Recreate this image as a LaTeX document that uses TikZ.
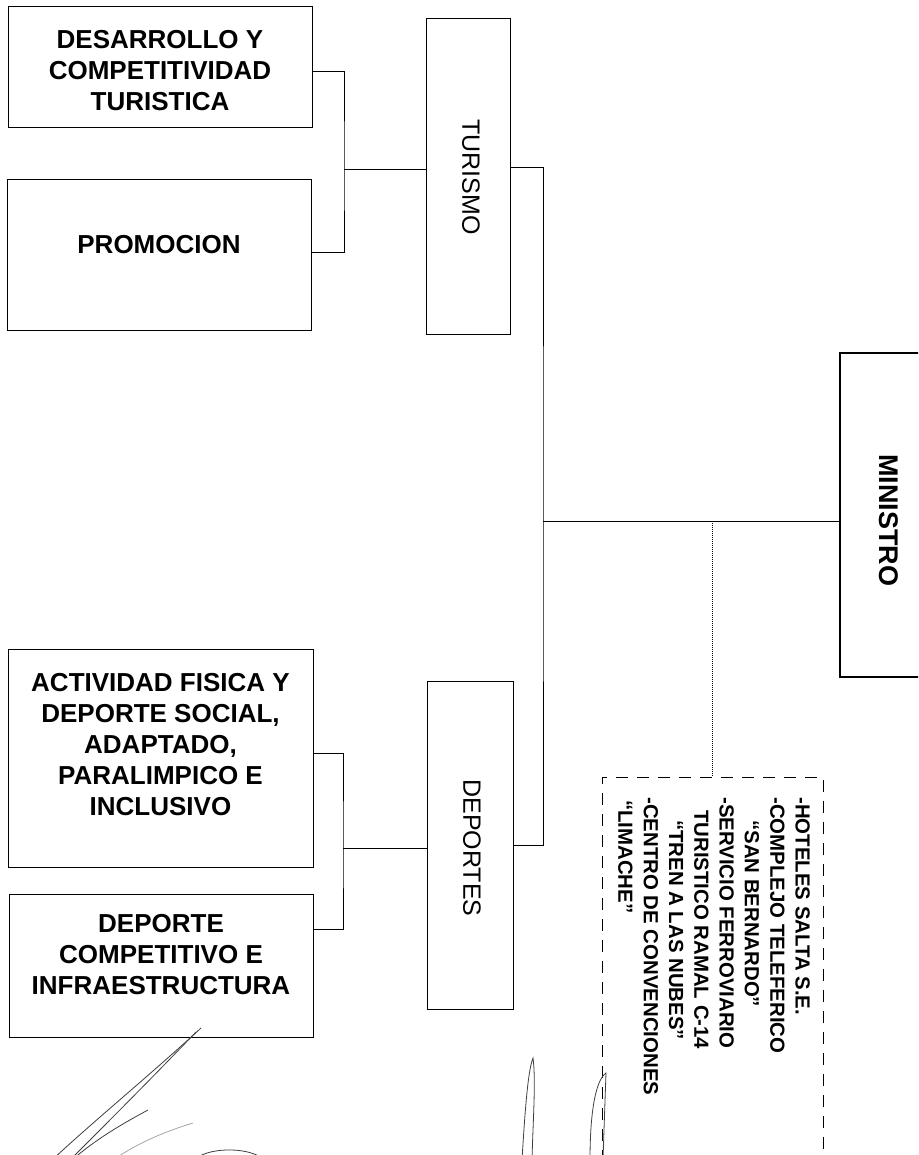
\documentclass[tikz,border=0pt]{standalone}
\usepackage{fontspec}
\setmainfont{Liberation Sans}
\begin{document}
\begin{tikzpicture}[x=1pt,y=-1pt,
  box/.style={draw=black, line width=1pt, rectangle, inner sep=0pt},
  ltext/.style={font=\bfseries\fontsize{26}{31}\selectfont, align=center, inner sep=0pt},
  vtext/.style={font=\fontsize{25}{30}\selectfont, rotate=-90, inner sep=0pt},
  mtext/.style={font=\bfseries\fontsize{27}{32}\selectfont, rotate=-90, inner sep=0pt},
  etext/.style={font=\bfseries\fontsize{20.4}{25.3}\selectfont, rotate=-90, align=left, inner sep=0pt},
  conn/.style={line width=1pt},
  dotline/.style={line width=0.7pt, dash pattern=on 1pt off 1pt},
  dashbox/.style={draw=black, line width=1pt, dash pattern=on 12pt off 9pt, rectangle, inner sep=0pt},
  sig/.style={line width=0.8pt, draw=black!75},
]
\useasboundingbox (0,0) rectangle (918,1155);
\clip (0,0) rectangle (918,1155);
\fill[white] (0,0) rectangle (918,1155);

% left boxes (turismo)
\node[box, minimum width=304pt, minimum height=121pt] (des) at (160,67.5) {};
\node[ltext] (dest) at (160,71) {DESARROLLO Y\\COMPETITIVIDAD\\TURISTICA};
\node[box, minimum width=304pt, minimum height=150pt] (prom) at (159,255) {};
\node[ltext] (promt) at (159,245) {PROMOCION};

% left boxes (deportes)
\node[box, minimum width=305pt, minimum height=218pt] (act) at (160.5,758) {};
\node[ltext] (actt) at (160.5,745) {ACTIVIDAD FISICA Y\\DEPORTE SOCIAL,\\ADAPTADO,\\PARALIMPICO E\\INCLUSIVO};
\node[box, minimum width=304pt, minimum height=143pt] (comp) at (161,965.5) {};
\node[ltext] (compt) at (161,955) {DEPORTE\\COMPETITIVO E\\INFRAESTRUCTURA};

% secretarias
\node[box, minimum width=84pt, minimum height=315pt] (tur) at (468,176.5) {};
\node[vtext] (turt) at (471,177) {TURISMO};
\node[box, minimum width=86pt, minimum height=328pt] (dep) at (470,845) {};
\node[vtext] (dept) at (472,848) {DEPORTES};

% ministro
\node[box, line width=2.5pt, minimum width=100pt, minimum height=324pt] (min) at (890,515) {};
\node[mtext] (mint) at (889,520) {MINISTRO};

% entes
\node[dashbox, minimum width=221pt, minimum height=403pt] (ent) at (712.5,978.5) {};
\node[etext, anchor=north west] (entt) at (810,797) {-HOTELES SALTA S.E.\\
-COMPLEJO TELEFERICO\\
\hspace*{23pt}“SAN BERNARDO”\\
-SERVICIO FERROVIARIO\\
\hspace*{13pt}TURISTICO RAMAL C-14\\
\hspace*{23pt}“TREN A LAS NUBES”\\
-CENTRO DE CONVENCIONES\\
\hspace*{3pt}“LIMACHE”};

% connectors
\coordinate (jt) at (344,170);
\draw[conn] ([yshift=-4.5pt]des.east) -| (jt) |- ([yshift=2pt]prom.east);
\draw[conn] (jt) -- (jt -| tur.west);

\coordinate (sp) at (543,521);
\draw[conn] ([yshift=8.5pt]tur.east) -| (sp) |- (dep.east);
\draw[conn] (sp) -- (sp -| min.west);
\draw[dotline] (sp -| ent.north) -- (ent.north);

\coordinate (jd) at (343,848);
\draw[conn] ([yshift=5pt]act.east) -| (jd) |- ([yshift=36.5pt]comp.east);
\draw[conn] (jd) -- (jd -| dep.west);

% handwritten signature strokes
\draw[sig] (201,1028) .. controls (150,1075) and (95,1120) .. (52,1160);
\draw[sig] (196,1032) .. controls (150,1080) and (105,1125) .. (70,1160);
\draw[sig] (148,1110) .. controls (120,1125) and (95,1140) .. (72,1160);
\draw[sig, draw=black!35] (193,1123) .. controls (160,1133) and (135,1145) .. (113,1160);
\draw[sig] (195,1160) .. controls (205,1148) and (245,1146) .. (262,1158);
\draw[sig] (522,1160) .. controls (525,1110) and (528,1070) .. (533,1058) .. controls (536,1080) and (533,1120) .. (532,1160);
\draw[sig] (590,1160) .. controls (590,1110) and (596,1080) .. (606,1073) .. controls (605,1100) and (604,1130) .. (603,1160);
\end{tikzpicture}
\end{document}
